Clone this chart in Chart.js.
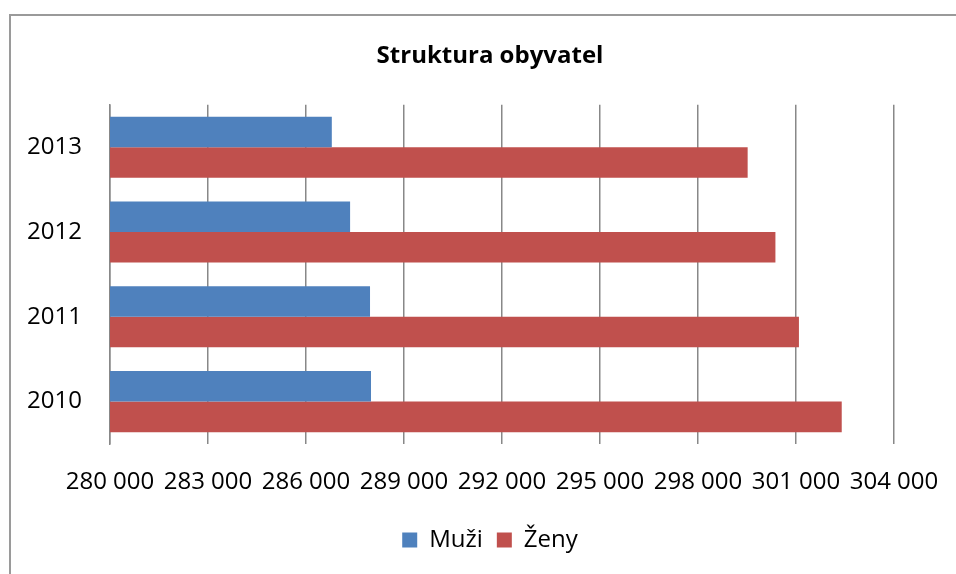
<!DOCTYPE html>
<html>
<head>
<meta charset="utf-8">
<script src="https://cdn.jsdelivr.net/npm/chart.js@4"></script>
<style>
html,body{margin:0;padding:0;background:#fff;}
#wrap{position:relative;width:956px;height:574px;overflow:hidden;}
#frame{position:absolute;left:9px;top:14px;width:1000px;height:600px;border:2px solid #9a9a9a;box-sizing:border-box;pointer-events:none;}
canvas{position:absolute;left:0;top:0;}
</style>
</head>
<body>
<div id="wrap">
<canvas id="c" width="956" height="574"></canvas>
<div id="frame"></div>
</div>
<script>
const titleText = 'Struktura obyvatel';
const years = ['2010', '2011', '2012', '2013'];
const seriesNames = ['Muži', 'Ženy'];
const muzi = [287990, 287960, 287350, 286790];
const zeny = [302400, 301090, 300370, 299520];
const axisMin = 280000;
const axisMax = 304000;
const axisStep = 3000;

const FONT = "'Open Sans', sans-serif";

function fmt(v){
  return String(v).replace(/\B(?=(\d{3})+(?!\d))/g, ' ');
}

new Chart(document.getElementById('c'), {
  type: 'bar',
  data: {
    labels: years,
    datasets: [
      { label: seriesNames[0], data: muzi, backgroundColor: '#4F81BD', borderWidth: 0 },
      { label: seriesNames[1], data: zeny, backgroundColor: '#C0504D', borderWidth: 0 }
    ]
  },
  options: {
    indexAxis: 'y',
    responsive: false,
    animation: false,
    layout: { padding: { left: 24, right: 0, top: 0, bottom: 12 } },
    datasets: { bar: { categoryPercentage: 0.72, barPercentage: 1.0 } },
    scales: {
      x: {
        min: axisMin, max: axisMax,
        afterFit: (s) => { s.height = 70; s.paddingRight = 62; },
        ticks: { stepSize: axisStep, color: '#000', padding: 24, font: { family: FONT, size: 24 }, callback: (v) => fmt(v), maxRotation: 0, autoSkip: false },
        grid: { color: '#888', lineWidth: 1.5, drawTicks: false },
        border: { display: false }
      },
      y: {
        reverse: true,
        afterFit: (s) => { s.width = 86; },
        ticks: { color: '#000', padding: 28, font: { family: FONT, size: 24 } },
        grid: { display: false, drawTicks: false },
        border: { display: true, color: '#888', width: 1.5 }
      }
    },
    plugins: {
      title: { display: true, text: titleText, color: '#000', font: { family: FONT, size: 24, weight: 'bold' }, padding: { top: 42, bottom: 34 } },
      legend: {
        position: 'bottom',
        labels: { color: '#000', font: { family: FONT, size: 24 }, boxWidth: 15, boxHeight: 15, padding: 14 }
      },
      tooltip: { enabled: false }
    }
  },
  plugins: [{
    id: 'bg',
    beforeDraw(chart){
      const ctx = chart.ctx;
      ctx.save(); ctx.fillStyle = '#fff'; ctx.fillRect(0,0,chart.width,chart.height); ctx.restore();
    }
  }]
});
</script>
</body>
</html>
